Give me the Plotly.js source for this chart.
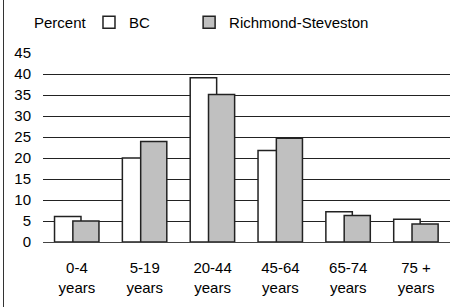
<!DOCTYPE html>
<html>
<head>
<meta charset="utf-8">
<script src="https://cdn.plot.ly/plotly-3.0.1.min.js"></script>
<style>
html,body{margin:0;padding:0;background:#fff;}
#wrap{position:relative;width:456px;height:307px;}
#chart{width:456px;height:307px;}
#edge{position:absolute;left:3px;top:0;width:1px;height:307px;background:#333;}
</style>
</head>
<body>
<div id="wrap"><div id="chart"></div><div id="edge"></div></div>
<script>
const categories = ["0-4<br>years", "5-19<br>years", "20-44<br>years", "45-64<br>years", "65-74<br>years", "75 +<br>years"];
const bcValues = [6.1, 20.0, 39.1, 21.8, 7.2, 5.4];
const richmondValues = [5.0, 23.9, 35.1, 24.7, 6.3, 4.3];
const seriesNames = ["BC", "Richmond-Steveston"];
const yTicks = [0, 5, 10, 15, 20, 25, 30, 35, 40, 45];

const font = {family: "Liberation Sans, Arial, sans-serif", size: 15, color: "#000"};

const traces = [
  {type: "bar", name: seriesNames[0], x: categories, y: bcValues,
   offset: -0.33, width: 0.39, legend: "legend",
   marker: {color: "#ffffff", line: {color: "#222", width: 1.5}}, hoverinfo: "none"},
  {type: "bar", name: seriesNames[1], x: categories, y: richmondValues,
   offset: -0.06, width: 0.385, legend: "legend2",
   marker: {color: "#c0c0c0", line: {color: "#222", width: 1.5}}, hoverinfo: "none"}
];

const legendBase = {orientation: "h", xanchor: "left", y: 1.162, yanchor: "middle",
  font: font, bgcolor: "rgba(0,0,0,0)"};

const layout = {
  width: 456, height: 307,
  margin: {l: 43, r: 6, t: 51, b: 65},
  paper_bgcolor: "#fff", plot_bgcolor: "#fff",
  font: font,
  barmode: "overlay",
  showlegend: true,
  legend: Object.assign({}, legendBase, {x: 0.113}),
  legend2: Object.assign({}, legendBase, {x: 0.359}),
  xaxis: {type: "category", showgrid: false, zeroline: false, showline: false, ticks: "",
    ticklabelstandoff: 15, tickfont: font, fixedrange: true},
  yaxis: {range: [0, 45], tickvals: yTicks, ticktext: yTicks.map(String),
    showgrid: true, gridcolor: "#222", gridwidth: 1, zeroline: true, zerolinecolor: "#444", zerolinewidth: 1,
    showline: false, ticks: "", ticklabelstandoff: 11, tickfont: font, fixedrange: true},
  annotations: [{text: "Percent", xref: "paper", yref: "paper", x: -0.027, y: 1.162,
    xanchor: "left", yanchor: "middle", showarrow: false, font: font}]
};

Plotly.newPlot("chart", traces, layout, {staticPlot: true, displayModeBar: false});
</script>
</body>
</html>
